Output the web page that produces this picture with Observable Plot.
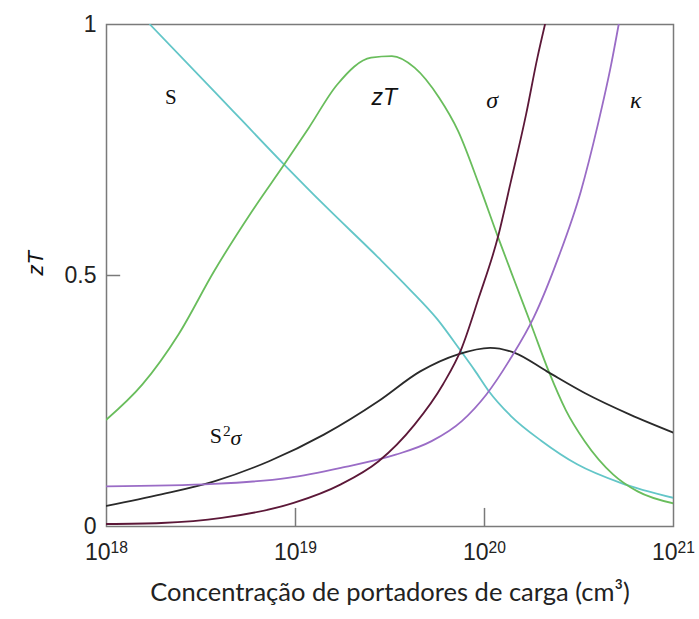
<!DOCTYPE html>
<html>
<head>
<meta charset="utf-8">
<script src="https://cdn.jsdelivr.net/npm/d3@7"></script>
<script src="https://cdn.jsdelivr.net/npm/@observablehq/plot@0.6"></script>
<style>
  html, body { margin: 0; padding: 0; background: #fff; }
  #chart svg { display: block; }
</style>
</head>
<body>
<div id="chart"></div>
<script>
// Concentration exponents (log10 of cm^-3) and values
const seebeckExp = [18.23, 18.57, 18.94, 19.15, 19.44, 19.60, 19.75, 19.87, 19.95, 20.02, 20.14, 20.30, 20.49, 20.72, 21.0];
const seebeckVal = [1.0, 0.867, 0.721, 0.641, 0.535, 0.474, 0.413, 0.352, 0.310, 0.271, 0.220, 0.171, 0.124, 0.087, 0.057];

const ztExp = [18.0, 18.19, 18.38, 18.57, 18.77, 18.94, 19.07, 19.22, 19.40, 19.51, 19.63, 19.76, 19.86, 19.97, 20.07, 20.16, 20.25, 20.34, 20.43, 20.53, 20.68, 20.81, 21.0];
const ztVal = [0.213, 0.283, 0.382, 0.509, 0.628, 0.721, 0.794, 0.880, 0.934, 0.937, 0.914, 0.854, 0.788, 0.682, 0.578, 0.488, 0.399, 0.309, 0.232, 0.170, 0.104, 0.070, 0.046];

const pfExp = [18.0, 18.29, 18.57, 18.86, 19.15, 19.44, 19.66, 19.86, 20.03, 20.16, 20.33, 20.53, 20.77, 21.0];
const pfVal = [0.041, 0.064, 0.090, 0.130, 0.183, 0.250, 0.309, 0.343, 0.356, 0.346, 0.309, 0.266, 0.223, 0.187];

const kappaExp = [18.0, 18.57, 18.96, 19.24, 19.53, 19.72, 19.88, 20.01, 20.14, 20.26, 20.39, 20.51, 20.60, 20.67, 20.71];
const kappaVal = [0.080, 0.085, 0.097, 0.117, 0.143, 0.170, 0.210, 0.263, 0.336, 0.416, 0.535, 0.668, 0.801, 0.920, 1.0];

const sigmaExp = [18.0, 18.29, 18.61, 18.99, 19.24, 19.44, 19.63, 19.78, 19.88, 19.97, 20.07, 20.14, 20.22, 20.28, 20.32];
const sigmaVal = [0.005, 0.007, 0.017, 0.047, 0.084, 0.130, 0.203, 0.283, 0.356, 0.456, 0.575, 0.688, 0.821, 0.934, 1.0];

const xTickExp = [18, 19, 20, 21];
const yTicks = [0, 0.5, 1];
const innerXTicks = [19, 20];

// Curve labels (data coordinates)
const labelText = ["S", "zT", "σ", "κ", "S2σ"];
const labelExp = [18.34, 19.47, 20.04, 20.80, 18.63];
const labelVal = [0.855, 0.855, 0.849, 0.849, 0.181];

const xTitle = "Concentração de portadores de carga (cm³)";
const yTitle = "zT";

const toRows = (ex, vals) => ex.map((e, i) => ({x: Math.pow(10, e), y: vals[i]}));

const series = [
  {rows: toRows(seebeckExp, seebeckVal), color: "#63c6c8"},
  {rows: toRows(ztExp, ztVal), color: "#69bd5c"},
  {rows: toRows(pfExp, pfVal), color: "#2a2a2a"},
  {rows: toRows(kappaExp, kappaVal), color: "#9a6cc6"},
  {rows: toRows(sigmaExp, sigmaVal), color: "#5c1838"}
];

const labels = labelText.map((t, i) => ({t, x: Math.pow(10, labelExp[i]), y: labelVal[i]}));

const plot = Plot.plot({
  width: 699,
  height: 619,
  marginLeft: 106,
  marginRight: 26,
  marginTop: 24,
  marginBottom: 93,
  style: {fontFamily: "Liberation Sans, Arial, sans-serif", background: "#fff", color: "#222"},
  x: {type: "log", domain: [1e18, 1e21]},
  y: {domain: [0, 1]},
  marks: [
    Plot.frame({stroke: "#7a7a7a", strokeWidth: 1.5}),
    Plot.ruleX(innerXTicks.map(e => Math.pow(10, e)), {y1: 0, y2: 0.036, stroke: "#7a7a7a", strokeWidth: 1.5}),
    Plot.ruleY([0.5], {x1: 1e18, x2: Math.pow(10, 18.075), stroke: "#7a7a7a", strokeWidth: 1.5}),
    Plot.axisX({ticks: xTickExp.map(e => Math.pow(10, e)), tickFormat: d => "10" + Math.round(Math.log10(d)), tickSize: 0, tickPadding: 17, fontSize: 23, label: null}),
    Plot.axisY({ticks: yTicks, tickFormat: d => String(d), tickSize: 0, tickPadding: 10, fontSize: 23, label: null}),
    ...series.map(s => Plot.line(s.rows, {x: "x", y: "y", stroke: s.color, strokeWidth: 1.8, curve: "monotone-x", clip: true})),
    Plot.text(labels.filter(d => d.t === "S"), {x: "x", y: "y", text: "t", fontFamily: "Liberation Serif, serif", fontSize: 21, fill: "#111"}),
    Plot.text(labels.filter(d => d.t === "zT"), {x: "x", y: "y", text: "t", fontFamily: "Liberation Sans, Arial, sans-serif", fontStyle: "italic", fontSize: 23, fill: "#111"}),
    Plot.text(labels.filter(d => d.t === "σ" || d.t === "κ"), {x: "x", y: "y", text: "t", fontFamily: "Liberation Serif, serif", fontStyle: "italic", fontSize: 24, fill: "#111"}),
    Plot.text(labels.filter(d => d.t === "S2σ"), {x: "x", y: "y", text: "t", fontFamily: "Liberation Serif, serif", fontSize: 22, fill: "#111"}),
    Plot.text([yTitle], {frameAnchor: "left", dx: -71, rotate: -90, text: d => d, fontStyle: "italic", fontSize: 22, fill: "#111"}),
    Plot.text([xTitle], {frameAnchor: "bottom", dy: 74, text: d => d, fontFamily: "Lato, sans-serif", fontSize: 25.5, fill: "#222"})
  ]
});

const svg = d3.select(plot);
svg.selectAll("text").each(function () {
  const el = d3.select(this);
  const t = this.textContent;
  let m = /^10(\d\d)$/.exec(t);
  if (m) {
    el.text(null);
    el.append("tspan").text("10");
    el.append("tspan").attr("dy", "-0.42em").attr("font-size", "0.68em").text(m[1]);
    return;
  }
  if (t === "S2σ") {
    el.text(null);
    el.append("tspan").text("S");
    el.append("tspan").attr("dy", "-0.42em").attr("font-size", "0.7em").attr("dx", "1").text("2");
    el.append("tspan").attr("dy", "0.42em").attr("font-style", "italic").text("σ");
  }
});

document.getElementById("chart").appendChild(plot);
</script>
</body>
</html>
